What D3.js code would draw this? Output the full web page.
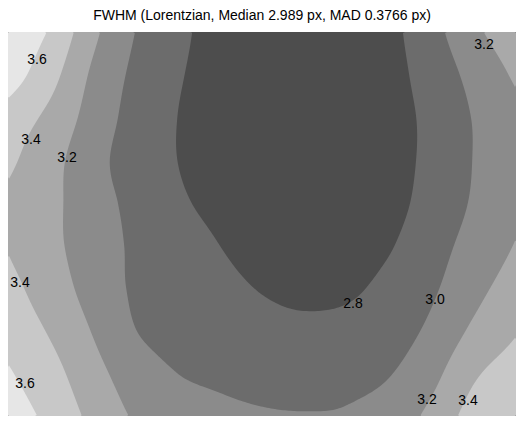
<!DOCTYPE html>
<html>
<head>
<meta charset="utf-8">
<script src="https://cdn.jsdelivr.net/npm/d3@7"></script>
<style>
body { margin: 0; background: #fff; }
text { font-family: "Liberation Sans", Arial, sans-serif; fill: #000; }
</style>
</head>
<body>
<script>
var width = 524,
    height = 424;

var title = "FWHM (Lorentzian, Median 2.989 px, MAD 0.3766 px)";

// contour levels and the grey of each filled band (below first level .. above last)
var levels = [2.8, 3.0, 3.2, 3.4, 3.6];
var bandColors = ["#4d4d4d", "#6c6c6c", "#8b8b8b", "#a9a9a9", "#c8c8c8", "#e6e6e6"];

// FWHM on a 13 x 10 grid (columns left->right, rows top->bottom)
var row0 = [3.75, 3.58, 3.25, 3.00, 2.85, 2.72, 2.66, 2.64, 2.67, 2.75, 2.93, 3.155, 3.33];
var row1 = [3.70, 3.47, 3.17, 2.96, 2.82, 2.72, 2.655, 2.635, 2.665, 2.74, 2.88, 3.06, 3.23];
var row2 = [3.52, 3.35, 3.12, 2.93, 2.80, 2.71, 2.655, 2.635, 2.665, 2.735, 2.845, 3.01, 3.15];
var row3 = [3.44, 3.27, 3.07, 2.91, 2.80, 2.71, 2.655, 2.635, 2.665, 2.735, 2.845, 3.005, 3.13];
var row4 = [3.37, 3.25, 3.08, 2.95, 2.83, 2.75, 2.68, 2.65, 2.67, 2.74, 2.87, 3.02, 3.16];
var row5 = [3.39, 3.25, 3.10, 2.97, 2.88, 2.80, 2.725, 2.69, 2.71, 2.785, 2.92, 3.07, 3.21];
var row6 = [3.46, 3.30, 3.125, 2.975, 2.915, 2.85, 2.79, 2.755, 2.77, 2.85, 2.97, 3.14, 3.29];
var row7 = [3.53, 3.38, 3.19, 3.005, 2.93, 2.885, 2.855, 2.84, 2.855, 2.91, 3.04, 3.235, 3.385];
var row8 = [3.62, 3.47, 3.27, 3.10, 3.00, 2.96, 2.93, 2.92, 2.94, 2.99, 3.14, 3.37, 3.50];
var row9 = [3.70, 3.55, 3.35, 3.18, 3.10, 3.05, 3.02, 3.01, 3.02, 3.09, 3.25, 3.48, 3.58];
var fwhm = [row0, row1, row2, row3, row4, row5, row6, row7, row8, row9];

// where the contour labels sit, in grid units
var labelSpots = [
    {text: "3.6", col: 0.685, row: 0.633},
    {text: "3.2", col: 11.245, row: 0.281},
    {text: "3.4", col: 0.543, row: 2.508},
    {text: "3.2", col: 1.394, row: 2.93},
    {text: "3.4", col: 0.283, row: 5.859},
    {text: "2.8", col: 8.15, row: 6.351},
    {text: "3.0", col: 10.087, row: 6.258},
    {text: "3.6", col: 0.402, row: 8.227},
    {text: "3.2", col: 9.898, row: 8.602},
    {text: "3.4", col: 10.867, row: 8.625}
];

var ncol = fwhm[0].length,
    nrow = fwhm.length;

var xscale = d3.scaleLinear().domain([0, ncol - 1]).range([8, 516]);
var yscale = d3.scaleLinear().domain([0, nrow - 1]).range([32, 416]);

var svg = d3.select("body").append("svg")
    .attr("width", width)
    .attr("height", height);

svg.append("text")
    .attr("x", 262)
    .attr("y", 20)
    .attr("text-anchor", "middle")
    .style("font-size", "14px")
    .text(title);

svg.append("clipPath").attr("id", "plotclip")
  .append("rect")
    .attr("x", xscale(0)).attr("y", yscale(0))
    .attr("width", xscale(ncol - 1) - xscale(0))
    .attr("height", yscale(nrow - 1) - yscale(0));

// grid value with linear extension past the edges
function val(r, c) {
    if (c < 0) return 2 * val(r, 0) - val(r, 1);
    if (c > ncol - 1) return 2 * val(r, ncol - 1) - val(r, ncol - 2);
    if (r < 0) return 2 * val(0, c) - val(1, c);
    if (r > nrow - 1) return 2 * val(nrow - 1, c) - val(nrow - 2, c);
    return fwhm[r][c];
}
function cubic(p0, p1, p2, p3, t) {
    return p1 + 0.5 * t * (p2 - p0 + t * (2 * p0 - 5 * p1 + 4 * p2 - p3 + t * (3 * (p1 - p2) + p3 - p0)));
}
// smooth (bicubic) reading of the grid, only used for drawing
function sample(col, row) {
    var c = Math.min(Math.floor(col), ncol - 2), r = Math.min(Math.floor(row), nrow - 2);
    var tc = col - c, tr = row - r;
    var rows = [];
    for (var k = -1; k <= 2; k++) {
        rows.push(cubic(val(r + k, c - 1), val(r + k, c), val(r + k, c + 1), val(r + k, c + 2), tc));
    }
    return cubic(rows[0], rows[1], rows[2], rows[3], tr);
}

var nx = 254, ny = 192;
var gx = d3.scaleLinear().domain([0, nx]).range(xscale.range());
var gy = d3.scaleLinear().domain([0, ny]).range(yscale.range());
var values = new Array(nx * ny);
for (var j = 0; j < ny; j++) {
    for (var i = 0; i < nx; i++) {
        values[j * nx + i] = sample(xscale.invert(gx(i + 0.5)), yscale.invert(gy(j + 0.5)));
    }
}

var contours = d3.contours().size([nx, ny]).thresholds(levels)(values);

var path = d3.geoPath(d3.geoTransform({
    point: function(x, y) { this.stream.point(gx(x), gy(y)); }
}));

var plot = svg.append("g").attr("clip-path", "url(#plotclip)");

plot.append("rect")
    .attr("x", xscale(0)).attr("y", yscale(0))
    .attr("width", xscale(ncol - 1) - xscale(0))
    .attr("height", yscale(nrow - 1) - yscale(0))
    .attr("fill", bandColors[0]);

plot.selectAll("path.band")
    .data(contours).enter()
    .append("path")
    .attr("class", "band")
    .attr("d", path)
    .attr("fill", function(d, i) { return bandColors[i + 1]; });

svg.append("g").selectAll("text")
    .data(labelSpots).enter()
    .append("text")
    .attr("x", function(d) { return xscale(d.col); })
    .attr("y", function(d) { return yscale(d.row); })
    .attr("dy", "0.35em")
    .attr("text-anchor", "middle")
    .style("font-size", "14px")
    .text(function(d) { return d.text; });
</script>
</body>
</html>
